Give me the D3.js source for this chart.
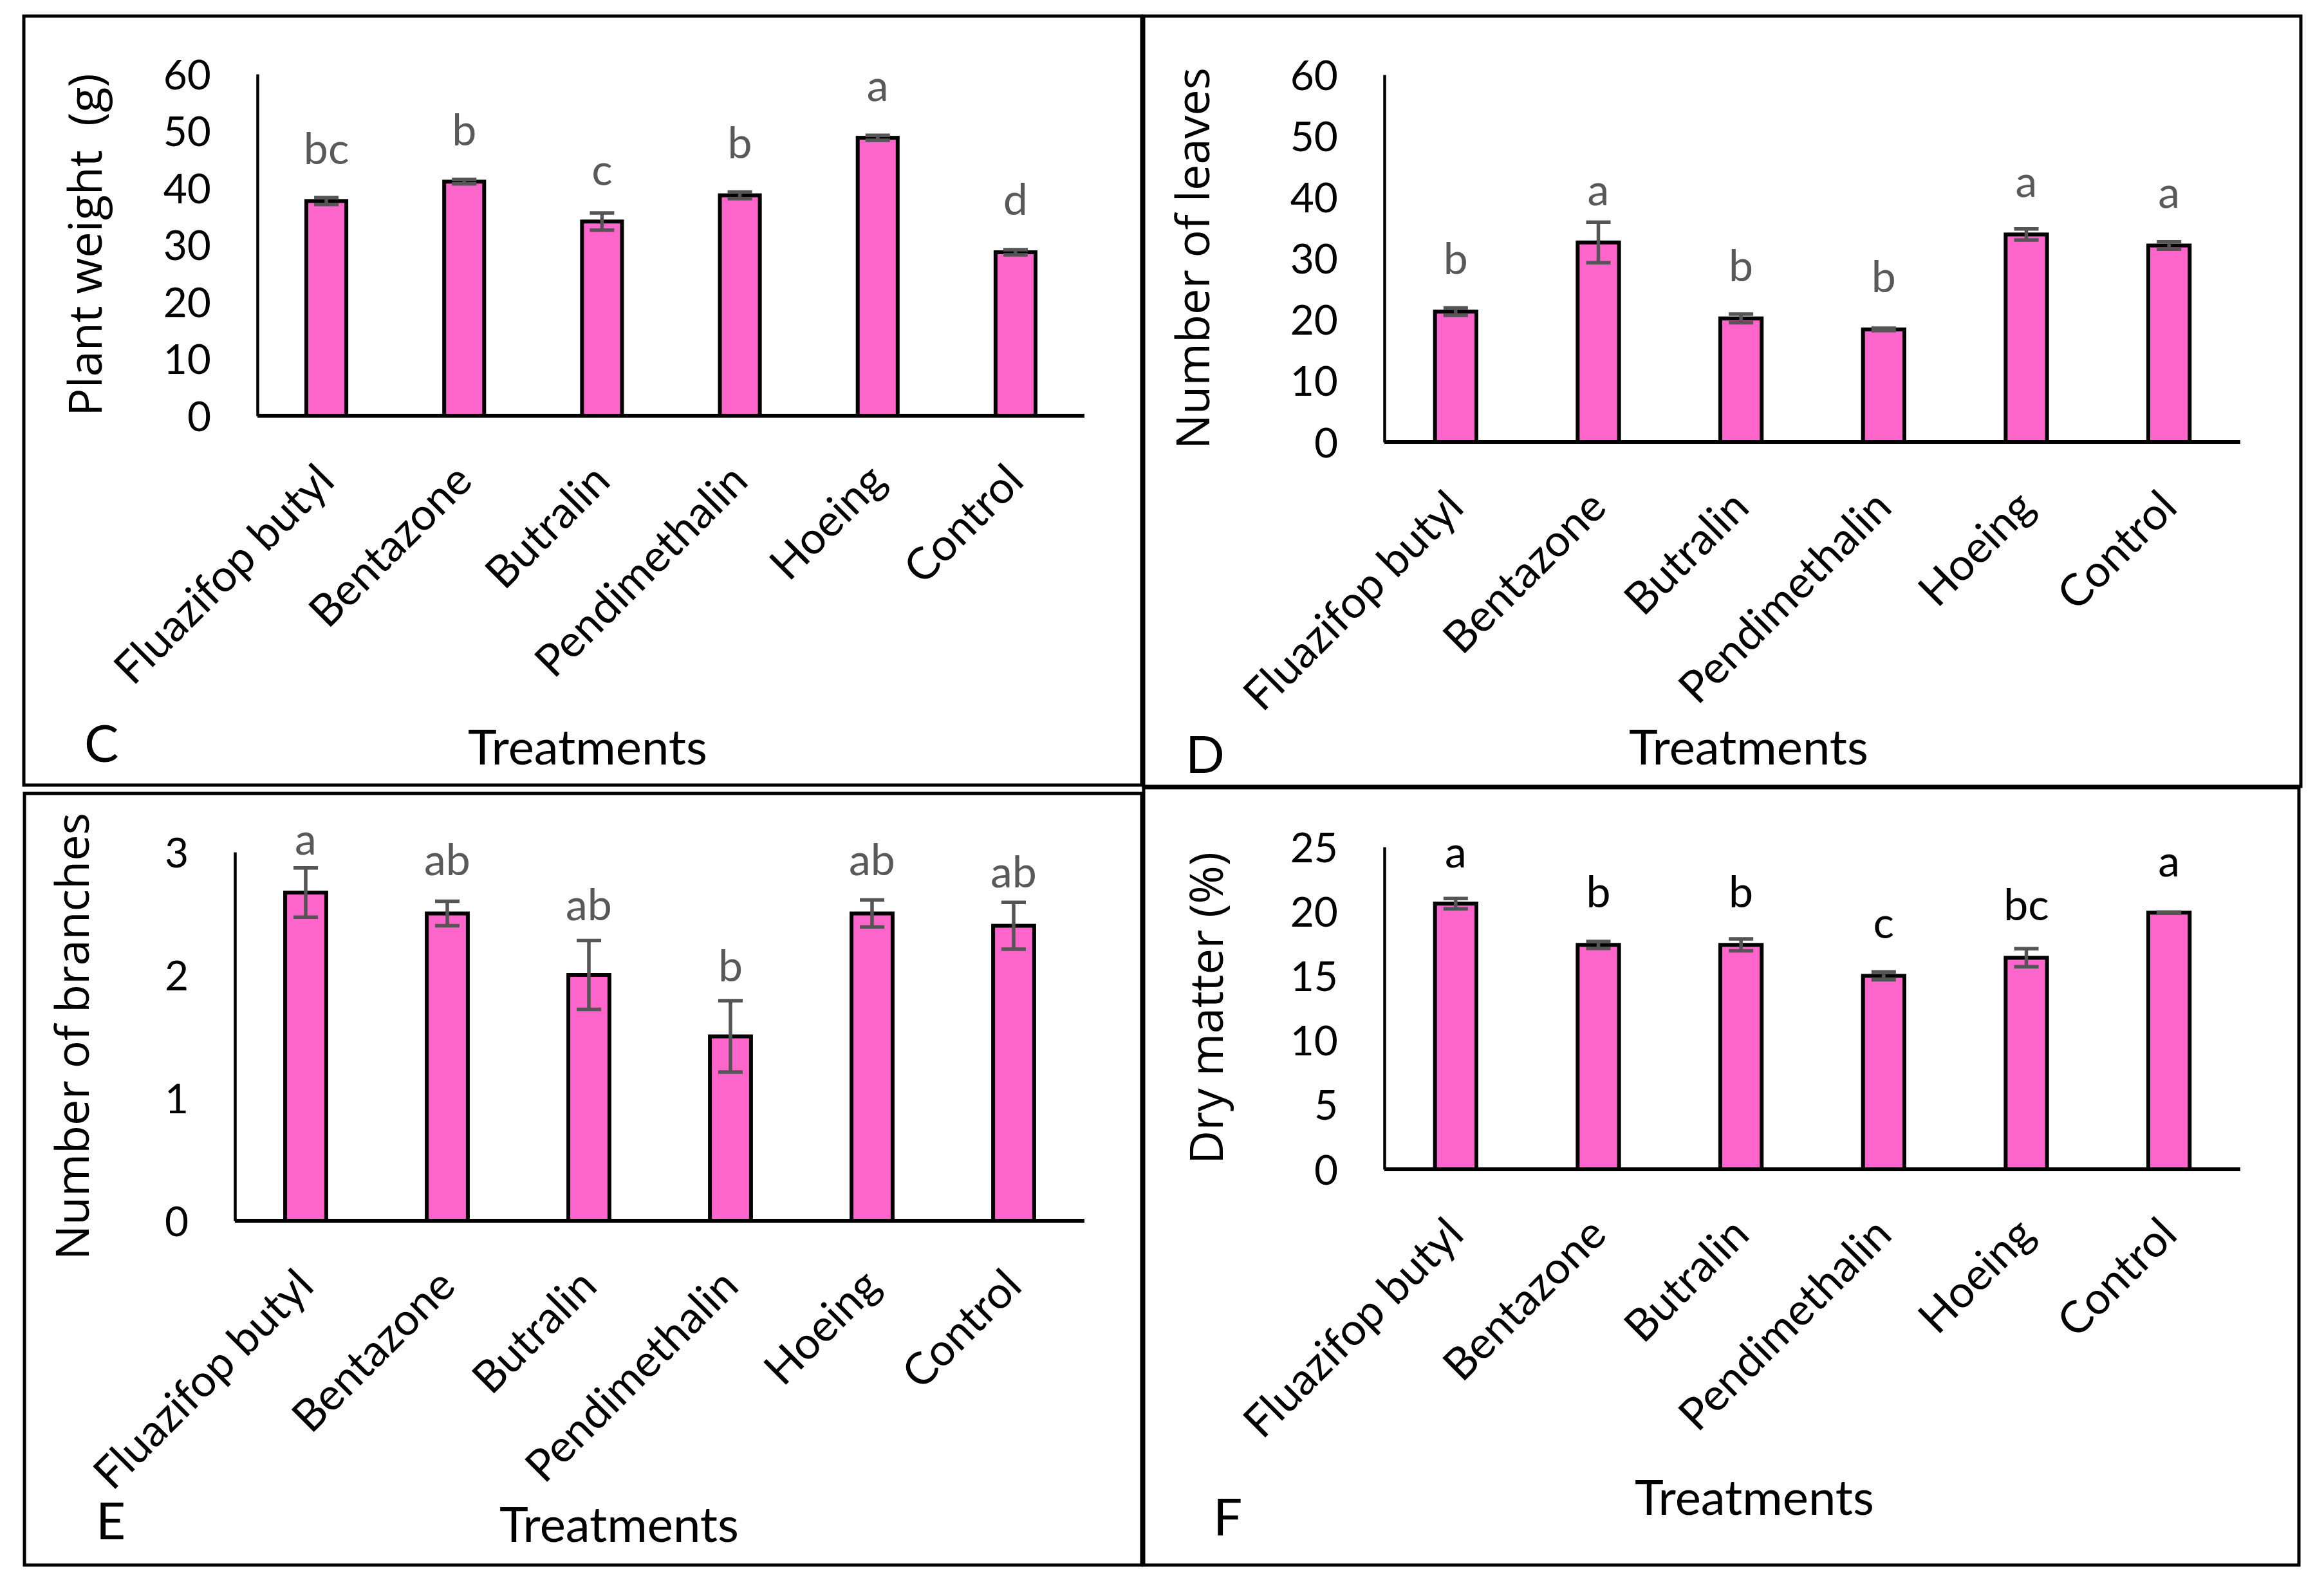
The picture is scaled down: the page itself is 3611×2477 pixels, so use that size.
<!DOCTYPE html>
<html><head><meta charset="utf-8">
<script src="https://cdn.jsdelivr.net/npm/d3@7"></script>
<style>body{margin:0;background:#fff}</style>
</head><body>
<svg id="chart" width="3611" height="2477"></svg>
<script>
// ---------- DATA ----------
const categories = ["Fluazifop butyl", "Bentazone", "Butralin", "Pendimethalin", "Hoeing", "Control"];

const weightValues  = [37.7, 41.1, 34.1, 38.7, 48.8, 28.7];
const weightErrors  = [0.6, 0.4, 1.5, 0.6, 0.45, 0.45];
const weightLetters = ["bc", "b", "c", "b", "a", "d"];
const weightLetterAt = [44.2, 47.5, 40.5, 45.2, 55.2, 35.2];
const weightTicks   = [0, 10, 20, 30, 40, 50, 60];

const leavesValues  = [21.3, 32.6, 20.2, 18.4, 33.9, 32.1];
const leavesErrors  = [0.6, 3.3, 0.7, 0.2, 0.9, 0.6];
const leavesLetters = ["b", "a", "b", "b", "a", "a"];
const leavesLetterAt = [27.4, 38.7, 26.3, 24.5, 40.0, 38.2];
const leavesTicks   = [0, 10, 20, 30, 40, 50, 60];

const branchValues  = [2.67, 2.50, 2.00, 1.50, 2.50, 2.40];
const branchErrors  = [0.20, 0.10, 0.28, 0.29, 0.11, 0.19];
const branchLetters = ["a", "ab", "ab", "b", "ab", "ab"];
const branchLetterAt = [2.98, 2.81, 2.445, 1.95, 2.81, 2.71];
const branchTicks   = [0, 1, 2, 3];

const dryValues  = [20.6, 17.4, 17.4, 15.0, 16.4, 19.9];
const dryErrors  = [0.4, 0.27, 0.46, 0.31, 0.7, 0.05];
const dryLetters = ["a", "b", "b", "c", "bc", "a"];
const dryLetterAt = [23.4, 20.3, 20.3, 17.9, 19.3, 22.7];
const dryTicks   = [0, 5, 10, 15, 20, 25];

const xTitle = "Treatments";

// ---------- LAYOUT ----------
const panels = [
  {tag:"C", values:weightValues, errors:weightErrors, letters:weightLetters, letterAt:weightLetterAt, ticks:weightTicks,
   yTitle:"Plant weight  (g)", letterColor:"#595959",
   frame:[37,25,1774,1220], x0:400, x1:1685, yTop:115, yBase:646,
   yTitleX:158, xTitleX:913, xTitleY:1188, tagX:131, tagY:1184},
  {tag:"D", values:leavesValues, errors:leavesErrors, letters:leavesLetters, letterAt:leavesLetterAt, ticks:leavesTicks,
   yTitle:"Number of leaves", letterColor:"#595959",
   frame:[1777,25,3575,1222], x0:2151, x1:3481, yTop:116, yBase:687,
   yTitleX:1879, xTitleX:2717, xTitleY:1188, tagX:1842, tagY:1201},
  {tag:"E", values:branchValues, errors:branchErrors, letters:branchLetters, letterAt:branchLetterAt, ticks:branchTicks,
   yTitle:"Number of branches", letterColor:"#595959",
   frame:[38,1233,1774,2432], x0:365, x1:1685, yTop:1324, yBase:1897,
   yTitleX:138, xTitleX:962, xTitleY:2396, tagX:149, tagY:2392},
  {tag:"F", values:dryValues, errors:dryErrors, letters:dryLetters, letterAt:dryLetterAt, ticks:dryTicks,
   yTitle:"Dry matter (%)", letterColor:"#000000",
   frame:[1777,1224,3572,2432], x0:2151, x1:3481, yTop:1316, yBase:1817,
   yTitleX:1900, xTitleX:2726, xTitleY:2354, tagX:1885, tagY:2386}
];

const calibri = "Lato, 'Open Sans', sans-serif";
const titleFont = "'Open Sans', 'DejaVu Sans', sans-serif";
const barFill = "#FF66CC";
const errColor = "#555555";

const svg = d3.select("#chart");
svg.append("rect").attr("width",3611).attr("height",2477).attr("fill","#fff");

panels.forEach(p => {
  const g = svg.append("g");
  const [fx0, fy0, fx1, fy1] = p.frame;
  g.append("rect").attr("x",fx0).attr("y",fy0).attr("width",fx1-fx0).attr("height",fy1-fy0)
    .attr("fill","none").attr("stroke","#000").attr("stroke-width",5);

  const x = d3.scaleBand().domain(categories).range([p.x0, p.x1]).paddingInner(0.71).paddingOuter(0.355);
  const y = d3.scaleLinear().domain([0, d3.max(p.ticks)]).range([p.yBase, p.yTop]);

  // y axis
  const ya = g.append("g").attr("transform",`translate(${p.x0},0)`)
    .call(d3.axisLeft(y).tickValues(p.ticks).tickFormat(d3.format("d")).tickSize(0).tickPadding(72));
  ya.select(".domain").attr("stroke","#000").attr("stroke-width",4.5);
  ya.selectAll("text").attr("font-family",calibri).attr("font-size",64).attr("fill","#000").attr("dy","0.36em");

  // bars
  g.selectAll("rect.bar").data(p.values).join("rect").attr("class","bar")
    .attr("x",(d,i)=>x(categories[i])).attr("width",x.bandwidth())
    .attr("y",d=>y(d)).attr("height",d=>y(0)-y(d))
    .attr("fill",barFill).attr("stroke","#000").attr("stroke-width",6);

  // error bars
  const cap = 19;
  p.values.forEach((v,i)=>{
    const cx = x(categories[i]) + x.bandwidth()/2;
    const e = p.errors[i];
    const eg = g.append("g").attr("stroke",errColor).attr("stroke-width",5.5);
    eg.append("line").attr("x1",cx).attr("x2",cx).attr("y1",y(v+e)).attr("y2",y(v-e));
    eg.append("line").attr("x1",cx-cap).attr("x2",cx+cap).attr("y1",y(v+e)).attr("y2",y(v+e));
    eg.append("line").attr("x1",cx-cap).attr("x2",cx+cap).attr("y1",y(v-e)).attr("y2",y(v-e));
  });

  // x axis
  const xa = g.append("g").attr("transform",`translate(0,${p.yBase})`)
    .call(d3.axisBottom(x).tickSize(0).tickSizeOuter(0));
  xa.select(".domain").attr("stroke","#000").attr("stroke-width",6)
    .attr("d",`M${p.x0},0H${p.x1}`);
  xa.selectAll("text").attr("font-family",calibri).attr("font-size",69).attr("fill","#000")
    .attr("text-anchor","end").attr("x",0).attr("y",0).attr("dy",0)
    .attr("transform","translate(16,105) rotate(-45)");

  // significance letters
  g.selectAll("text.sig").data(p.letters).join("text").attr("class","sig")
    .attr("x",(d,i)=>x(categories[i]) + x.bandwidth()/2)
    .attr("y",(d,i)=>y(p.letterAt[i]))
    .attr("text-anchor","middle").attr("font-family",calibri).attr("font-size",68)
    .attr("fill",p.letterColor).text(d=>d);

  // y title
  const ym = (p.yTop + p.yBase)/2;
  g.append("text").attr("transform",`translate(${p.yTitleX},${ym}) rotate(-90)`)
    .attr("text-anchor","middle").attr("font-family",titleFont).attr("font-size",72)
    .attr("fill","#000").attr("xml:space","preserve").style("white-space","pre").text(p.yTitle);

  // x title
  g.append("text").attr("x",p.xTitleX).attr("y",p.xTitleY).attr("text-anchor","middle")
    .attr("font-family",calibri).attr("font-size",76).attr("fill","#000").text(xTitle);

  // panel tag
  g.append("text").attr("x",p.tagX).attr("y",p.tagY)
    .attr("font-family",calibri).attr("font-size",80).attr("fill","#000").text(p.tag);
});
</script>
</body></html>
